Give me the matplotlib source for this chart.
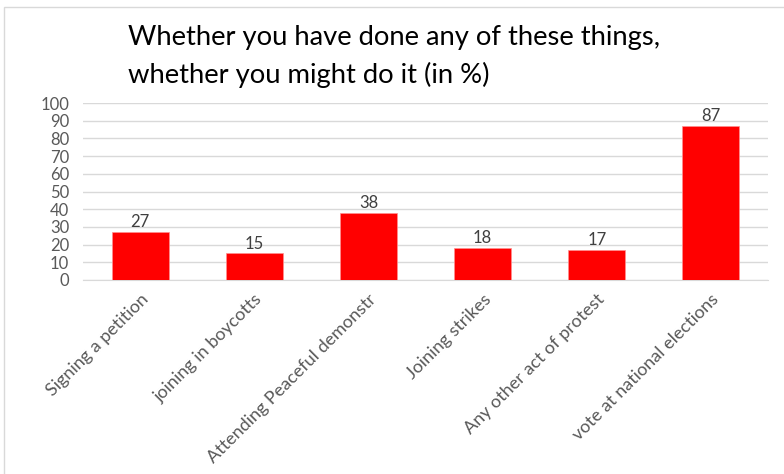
import matplotlib
matplotlib.use("Agg")
import matplotlib.pyplot as plt
from matplotlib.patches import Rectangle

categories = ["Signing a petition", "joining in boycotts", "Attending Peaceful demonstr",
              "Joining strikes", "Any other act of protest", "vote at national elections"]
values = [27, 15, 38, 18, 17, 87]
yticks = [0, 10, 20, 30, 40, 50, 60, 70, 80, 90, 100]
title_lines = ["Whether you have done any of these things,", "whether you might do it (in %)"]

plt.rcParams['font.family'] = ['Lato', 'DejaVu Sans']

fig = plt.figure(figsize=(7.84, 4.74), dpi=100)
fig.patches.append(Rectangle((4/784, -0.1), 1.2, (474-7)/474 + 0.1, transform=fig.transFigure,
                             fill=False, edgecolor='#d9d9d9', linewidth=1.0))
ax = fig.add_axes([83/784, 1-280/474, (768-83)/784, (280-103)/474])

x = list(range(len(categories)))
ax.bar(x, values, width=0.5, color='#ff0000', edgecolor='#ff9090', linewidth=0.5, zorder=3)
for xi, v in zip(x, values):
    ax.text(xi, v + 1.0, str(v), ha='center', va='bottom', fontsize=12, color='#404040')

ax.set_ylim(0, 100)
ax.set_xlim(-0.5, len(categories) - 0.5)
ax.set_yticks(yticks)
ax.set_yticklabels([str(t) for t in yticks], fontsize=12, color='#595959')
ax.yaxis.grid(True, color='#d9d9d9', linewidth=1.0, zorder=0)
ax.set_axisbelow(True)
for s in ['top', 'right', 'left']:
    ax.spines[s].set_visible(False)
ax.spines['bottom'].set_color('#d9d9d9')
ax.tick_params(axis='y', length=0, pad=10)
ax.tick_params(axis='x', length=0, pad=8)
ax.set_xticks(x)
ax.set_xticklabels(categories, rotation=45, ha='right', rotation_mode='anchor',
                   fontsize=13, color='#595959')

for i, line in enumerate(title_lines):
    fig.text(128/784, 1-(38 + 37*i)/474, line, ha='left', va='center', fontsize=19.7, color='#000000')

fig.savefig("out.png", dpi=100)
